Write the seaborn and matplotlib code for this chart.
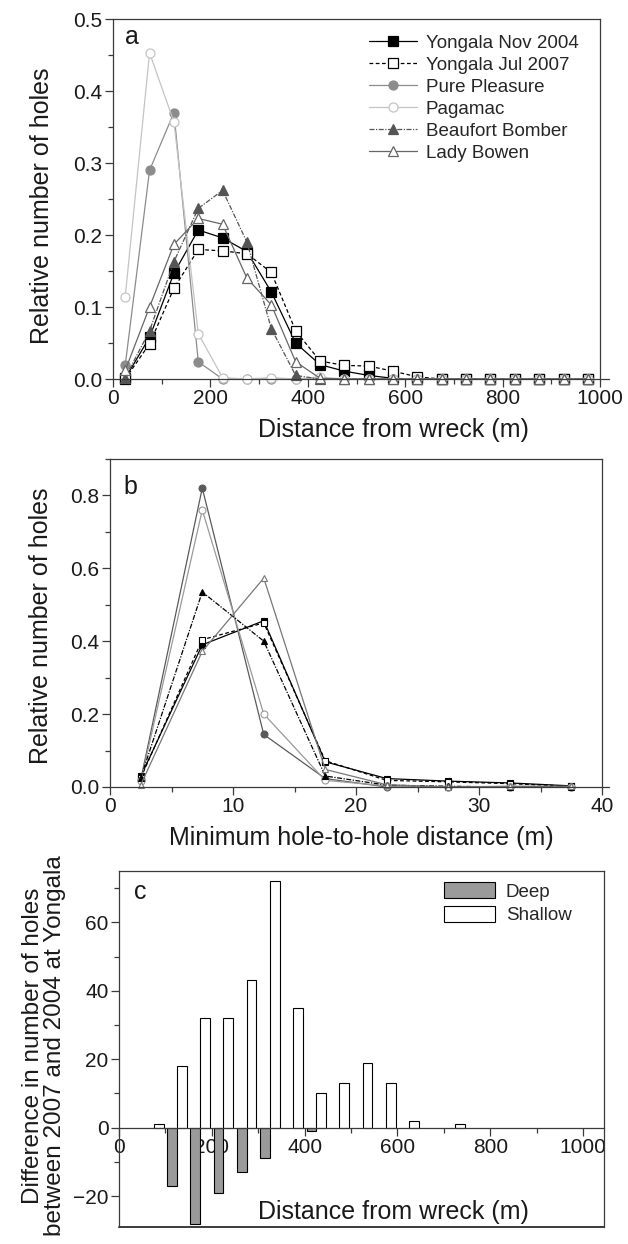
import numpy as np
import pandas as pd
import matplotlib
matplotlib.use("Agg")
import matplotlib.pyplot as plt
from matplotlib.ticker import MultipleLocator, FormatStrFormatter
from matplotlib.patches import Patch
import seaborn as sns

# panel a: relative number of holes vs distance from wreck
dist_a = [25, 75, 125, 175, 225, 275, 325, 375, 425, 475,
          525, 575, 625, 675, 725, 775, 825, 875, 925, 975]
nov2004_a = [0.001, 0.058, 0.147, 0.207, 0.196, 0.177, 0.121, 0.050, 0.020, 0.011,
             0.005, 0.001, 0.0, 0.0, 0.0, 0.0, 0.0, 0.0, 0.0, 0.0]
jul2007_a = [0.0, 0.049, 0.126, 0.180, 0.178, 0.174, 0.148, 0.067, 0.025, 0.019,
             0.018, 0.011, 0.003, 0.0, 0.0, 0.0, 0.0, 0.0, 0.0, 0.0]
pure_a = [0.019, 0.290, 0.370, 0.024, 0.0, 0.0, 0.0, 0.0, 0.0, 0.0,
          0.0, 0.0, 0.0, 0.0, 0.0, 0.0, 0.0, 0.0, 0.0, 0.0]
pagamac_a = [0.114, 0.453, 0.357, 0.063, 0.002, 0.0, 0.002, 0.0, 0.003, 0.0,
             0.0, 0.0, 0.0, 0.0, 0.0, 0.0, 0.0, 0.0, 0.0, 0.0]
beaufort_a = [0.002, 0.067, 0.163, 0.237, 0.262, 0.190, 0.070, 0.005, 0.0, 0.0,
              0.0, 0.0, 0.0, 0.0, 0.0, 0.0, 0.0, 0.0, 0.0, 0.0]
bowen_a = [0.012, 0.100, 0.187, 0.223, 0.215, 0.140, 0.103, 0.024, 0.001, 0.0,
           0.0, 0.0, 0.0, 0.0, 0.0, 0.0, 0.0, 0.0, 0.0, 0.0]

# panel b: relative number of holes vs minimum hole-to-hole distance
dist_b = [2.5, 7.5, 12.5, 17.5, 22.5, 27.5, 32.5, 37.5]
nov2004_b = [0.029, 0.390, 0.456, 0.069, 0.023, 0.016, 0.011, 0.003]
jul2007_b = [0.025, 0.404, 0.450, 0.072, 0.018, 0.014, 0.009, 0.002]
pure_b = [0.020, 0.820, 0.144, 0.023, 0.0, 0.0, 0.0, 0.0]
pagamac_b = [0.015, 0.760, 0.200, 0.018, 0.003, 0.0, 0.0, 0.0]
beaufort_b = [0.025, 0.535, 0.400, 0.030, 0.005, 0.002, 0.0, 0.0]
bowen_b = [0.006, 0.372, 0.573, 0.048, 0.006, 0.0, 0.002, 0.002]

# panel c: difference in number of holes 2007 - 2004
deep_bins = [125, 175, 225, 275, 325, 425]
deep_diff = [-17, -28, -19, -13, -9, -1]
shallow_bins = [75, 125, 175, 225, 275, 325, 375, 425, 475, 525, 575, 625, 725]
shallow_diff = [1, 18, 32, 32, 43, 72, 35, 10, 13, 19, 13, 2, 1]

series_names = ["Yongala Nov 2004", "Yongala Jul 2007", "Pure Pleasure",
                "Pagamac", "Beaufort Bomber", "Lady Bowen"]

sns.set_theme(style="ticks")
plt.rcParams["font.family"] = ["Liberation Sans", "DejaVu Sans"]

spine_col = "#3a3a3a"
txt_col = "#1a1a1a"
fig = plt.figure(figsize=(6.28, 12.44), dpi=100)

ax_a = fig.add_axes([0.180, 0.6953, 0.7755, 0.2894])
ax_b = fig.add_axes([0.1752, 0.3674, 0.7834, 0.2637])
ax_c = fig.add_axes([0.1895, 0.0137, 0.7723, 0.2862])

# styles per series: line colour, linestyle, marker, face, edge
styles_a = [
    ("black", "-", "s", "black", "black"),
    ("black", (0, (3, 2)), "s", "white", "black"),
    ("#8c8c8c", "-", "o", "#8c8c8c", "#8c8c8c"),
    ("#c4c4c4", "-", "o", "white", "#c4c4c4"),
    ("#555555", (0, (4, 1.2, 1, 1.2)), "^", "#555555", "#555555"),
    ("#666666", "-", "^", "white", "#666666"),
]
styles_b = [
    ("black", "-", "s", "black", "black"),
    ("black", (0, (3, 2)), "s", "white", "black"),
    ("#5a5a5a", "-", "o", "#5a5a5a", "#5a5a5a"),
    ("#9a9a9a", "-", "o", "white", "#9a9a9a"),
    ("black", (0, (4, 1.2, 1, 1.2)), "^", "black", "black"),
    ("#777777", "-", "^", "white", "#777777"),
]

vals_a = [nov2004_a, jul2007_a, pure_a, pagamac_a, beaufort_a, bowen_a]
vals_b = [nov2004_b, jul2007_b, pure_b, pagamac_b, beaufort_b, bowen_b]

for name, vals, (lc, ls, mk, fc, ec) in zip(series_names, vals_a, styles_a):
    sns.lineplot(x=dist_a, y=vals, ax=ax_a, color=lc, linestyle=ls, marker=mk,
                 markersize=6.5, markerfacecolor=fc, markeredgecolor=ec,
                 markeredgewidth=0.9, linewidth=0.9, label=name,
                 errorbar=None, clip_on=False)

for name, vals, (lc, ls, mk, fc, ec) in zip(series_names, vals_b, styles_b):
    sns.lineplot(x=dist_b, y=vals, ax=ax_b, color=lc, linestyle=ls, marker=mk,
                 markersize=5, markerfacecolor=fc, markeredgecolor=ec,
                 markeredgewidth=0.8, linewidth=0.9, errorbar=None,
                 legend=False, clip_on=False)

# panel c bars
bars = pd.DataFrame({
    "bin": deep_bins + shallow_bins,
    "diff": deep_diff + shallow_diff,
    "depth": ["Deep"] * len(deep_bins) + ["Shallow"] * len(shallow_bins),
})
sns.barplot(data=bars, x="bin", y="diff", hue="depth", ax=ax_c,
            native_scale=True, hue_order=["Deep", "Shallow"],
            palette={"Deep": "#9a9a9a", "Shallow": "white"},
            edgecolor="black", linewidth=0.8, saturation=1,
            width=0.84, errorbar=None, legend=False)

for ax in (ax_a, ax_b, ax_c):
    for sp in ax.spines.values():
        sp.set_visible(True)
        sp.set_color(spine_col)
        sp.set_linewidth(0.9)
    ax.tick_params(which="major", direction="out", length=6, width=0.9,
                   color=spine_col, labelsize=15, labelcolor=txt_col, pad=1.5)
    ax.tick_params(which="minor", direction="out", length=3.5, width=0.9,
                   color=spine_col)
    ax.tick_params(axis="x", which="both", top=False)
    ax.tick_params(axis="y", which="both", right=False)

# panel a axes
ax_a.set_xlim(0, 1000)
ax_a.set_ylim(0, 0.5)
ax_a.xaxis.set_major_locator(MultipleLocator(200))
ax_a.xaxis.set_minor_locator(MultipleLocator(100))
ax_a.yaxis.set_major_locator(MultipleLocator(0.1))
ax_a.yaxis.set_minor_locator(MultipleLocator(0.05))
ax_a.yaxis.set_major_formatter(FormatStrFormatter("%.1f"))
ax_a.spines["bottom"].set_bounds(0, 1018)
ax_a.set_xlabel("Distance from wreck (m)", fontsize=18, color=txt_col)
ax_a.xaxis.set_label_coords(0.575, -0.108)
ax_a.set_ylabel("Relative number of holes", fontsize=18, color=txt_col)
ax_a.yaxis.set_label_coords(-0.122, 0.48)
ax_a.text(0.025, 0.95, "a", transform=ax_a.transAxes, fontsize=18,
          va="center", ha="left", color=txt_col)
ax_a.legend(loc="upper left", bbox_to_anchor=(0.525, 0.957), frameon=False,
            fontsize=13.5, handlelength=2.6, handletextpad=0.45,
            labelspacing=0.26, borderpad=0, borderaxespad=0)

# panel b axes
ax_b.set_xlim(0, 40)
ax_b.set_ylim(0, 0.9)
ax_b.xaxis.set_major_locator(MultipleLocator(10))
ax_b.xaxis.set_minor_locator(MultipleLocator(5))
ax_b.yaxis.set_major_locator(MultipleLocator(0.2))
ax_b.yaxis.set_minor_locator(MultipleLocator(0.1))
ax_b.yaxis.set_major_formatter(FormatStrFormatter("%.1f"))
ax_b.spines["bottom"].set_bounds(0, 40.6)
ax_b.set_xlabel("Minimum hole-to-hole distance (m)", fontsize=18, color=txt_col)
ax_b.xaxis.set_label_coords(0.51, -0.118)
ax_b.set_ylabel("Relative number of holes", fontsize=18, color=txt_col)
ax_b.yaxis.set_label_coords(-0.115, 0.49)
ax_b.text(0.027, 0.915, "b", transform=ax_b.transAxes, fontsize=18,
          va="center", ha="left", color=txt_col)

# panel c axes
ax_c.set_xlim(0, 1045)
ax_c.set_ylim(-29, 75)
ax_c.xaxis.set_major_locator(MultipleLocator(200))
ax_c.xaxis.set_minor_locator(MultipleLocator(100))
ax_c.xaxis.set_major_formatter(FormatStrFormatter("%d"))
ax_c.yaxis.set_major_locator(MultipleLocator(20))
ax_c.yaxis.set_minor_locator(MultipleLocator(10))
ax_c.spines["bottom"].set_position(("data", 0))
ax_c.axhline(ax_c.get_ylim()[0], color=spine_col, linewidth=1.4, clip_on=False)
ax_c.set_xlabel("Distance from wreck (m)", fontsize=18, color=txt_col)
ax_c.xaxis.set_label_coords(0.565, 0.075)
ax_c.set_ylabel("Difference in number of holes\nbetween 2007 and 2004 at Yongala",
                fontsize=17.5, color=txt_col, linespacing=1.0)
ax_c.yaxis.set_label_coords(-0.11, 0.51)
ax_c.text(0.03, 0.94, "c", transform=ax_c.transAxes, fontsize=18,
          va="center", ha="left", color=txt_col)
handles_c = [Patch(facecolor="#9a9a9a", edgecolor="black", linewidth=0.8, label="Deep"),
             Patch(facecolor="white", edgecolor="black", linewidth=0.8, label="Shallow")]
ax_c.legend(handles=handles_c, loc="upper left", bbox_to_anchor=(0.67, 0.968),
            frameon=False, fontsize=13.5, handlelength=2.7, handleheight=0.95,
            handletextpad=0.6, labelspacing=0.25, borderpad=0, borderaxespad=0)

fig.savefig("out.png", dpi=100)
